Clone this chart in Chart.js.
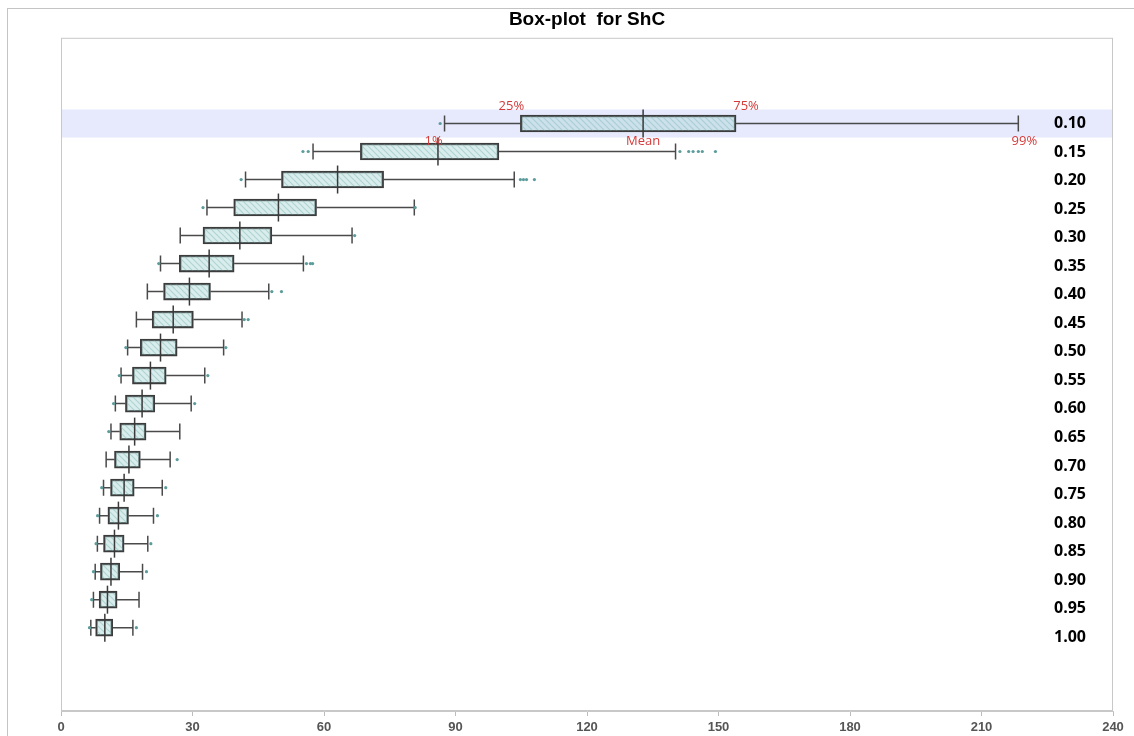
<!DOCTYPE html>
<html>
<head>
<meta charset="utf-8">
<script src="https://cdn.jsdelivr.net/npm/chart.js@4.4.0/dist/chart.umd.min.js"></script>
<style>
  body { margin: 0; background: #fff; }
  #frame { position: absolute; left: 7px; top: 8px; width: 1200px; height: 800px;
           border-left: 1px solid #c4c4c4; border-top: 1px solid #c4c4c4; }
  #wrap { position: absolute; left: 0; top: 0; width: 1134px; height: 736px; }
</style>
</head>
<body>
<div id="frame"></div>
<div id="wrap"><canvas id="boxChart" width="1134" height="736"></canvas></div>
<script>
// ---------- DATA ----------
const categories = ["0.10", "0.15", "0.20", "0.25", "0.30", "0.35", "0.40", "0.45", "0.50", "0.55",
                    "0.60", "0.65", "0.70", "0.75", "0.80", "0.85", "0.90", "0.95", "1.00"];
const p1Values   = [87.5, 57.5, 42.1, 33.3, 27.2, 22.7, 19.7, 17.2, 15.2, 13.7, 12.4, 11.4, 10.3, 9.7, 8.8, 8.3, 7.8, 7.4, 6.8];
const q1Values   = [104.8, 68.3, 50.3, 39.4, 32.4, 27.0, 23.4, 20.8, 18.1, 16.3, 14.7, 13.4, 12.2, 11.3, 10.7, 9.7, 9.0, 8.7, 7.9];
const meanValues = [132.8, 86.0, 63.1, 49.6, 40.8, 33.8, 29.3, 25.6, 22.7, 20.4, 18.5, 16.8, 15.5, 14.4, 13.1, 12.2, 11.4, 10.6, 10.0];
const q3Values   = [154.0, 99.9, 73.6, 58.3, 48.1, 39.5, 34.1, 30.2, 26.5, 24.0, 21.4, 19.4, 18.1, 16.7, 15.4, 14.4, 13.4, 12.8, 11.8];
const p99Values  = [218.4, 140.2, 103.4, 80.6, 66.4, 55.3, 47.4, 41.3, 37.1, 32.8, 29.7, 27.1, 24.9, 23.1, 21.1, 19.8, 18.6, 17.8, 16.4];
const outlierValues = [
    [86.5],
    [55.2, 56.4, 141.2, 143.2, 144.2, 145.4, 146.3, 149.3],
    [41.1, 104.8, 105.5, 106.2, 108.0],
    [32.4, 80.8],
    [67.0],
    [22.3, 56.0, 56.9, 57.4],
    [48.1, 50.3],
    [41.8, 42.7],
    [14.8, 37.6],
    [13.3, 33.5],
    [12.0, 30.5],
    [10.9],
    [26.5],
    [9.3, 23.9],
    [8.35, 22.0],
    [8.0, 20.5],
    [7.4, 19.5],
    [7.0],
    [6.5, 17.2]
];
const xTicks = [0, 30, 60, 90, 120, 150, 180, 210, 240];
const highlightIndex = 0;

// ---------- Hatched box fill ----------
function makeHatch() {
    const c = document.createElement("canvas");
    c.width = 6; c.height = 6;
    const g = c.getContext("2d");
    g.fillStyle = "rgba(172, 214, 214, 0.45)";
    g.fillRect(0, 0, 6, 6);
    g.strokeStyle = "rgba(140, 192, 192, 0.55)";
    g.lineWidth = 1.2;
    g.beginPath();
    g.moveTo(-1, -1); g.lineTo(7, 7);
    g.moveTo(-1, 5); g.lineTo(1, 7);
    g.moveTo(5, -1); g.lineTo(7, 1);
    g.stroke();
    return g.createPattern(c, "repeat");
}

// ---------- Plugin: band, whiskers, mean lines, labels ----------
const boxExtras = {
    id: "boxExtras",
    beforeDatasetsDraw(chart) {
        const { ctx, chartArea, scales } = chart;
        const x = scales.x, y = scales.y;
        ctx.save();
        // highlighted row
        const yc = y.getPixelForValue(highlightIndex);
        ctx.fillStyle = "#e6eafc";
        ctx.fillRect(chartArea.left + 1, yc - 14, chartArea.right - chartArea.left - 2, 28);
        // whiskers and caps
        ctx.strokeStyle = "#4a4a4a";
        ctx.lineWidth = 1.5;
        categories.forEach((c, i) => {
            const py = y.getPixelForValue(i);
            const a = x.getPixelForValue(p1Values[i]);
            const b = x.getPixelForValue(q1Values[i]);
            const d = x.getPixelForValue(q3Values[i]);
            const e = x.getPixelForValue(p99Values[i]);
            ctx.beginPath();
            ctx.moveTo(a, py); ctx.lineTo(b, py);
            ctx.moveTo(d, py); ctx.lineTo(e, py);
            ctx.moveTo(a, py - 8); ctx.lineTo(a, py + 8);
            ctx.moveTo(e, py - 8); ctx.lineTo(e, py + 8);
            ctx.stroke();
        });
        ctx.restore();
    },
    afterDatasetsDraw(chart) {
        const { ctx, chartArea, scales } = chart;
        const x = scales.x, y = scales.y, yl = scales.yLabels;
        ctx.save();
        // mean lines
        ctx.strokeStyle = "#3a3a3a";
        ctx.lineWidth = 1.5;
        categories.forEach((c, i) => {
            const py = y.getPixelForValue(i);
            const m = x.getPixelForValue(meanValues[i]);
            ctx.beginPath();
            ctx.moveTo(m, py - 14); ctx.lineTo(m, py + 14);
            ctx.stroke();
        });
        // category labels on the right
        ctx.fillStyle = "#000";
        ctx.font = "bold 16px 'Open Sans', sans-serif";
        ctx.textAlign = "center";
        ctx.textBaseline = "middle";
        categories.forEach((c, i) => {
            ctx.fillText(c, 1070, yl.getPixelForValue(i));
        });
        // statistic labels for the highlighted row
        const h = highlightIndex;
        const py = y.getPixelForValue(h);
        ctx.fillStyle = "#d43a3a";
        ctx.font = "13px 'Open Sans', sans-serif";
        ctx.fillText("25%", x.getPixelForValue(q1Values[h]) - 9, py - 17);
        ctx.fillText("75%", x.getPixelForValue(q3Values[h]) + 10, py - 17);
        ctx.fillText("1%", x.getPixelForValue(p1Values[h]) - 11, py + 18);
        ctx.fillText("Mean", x.getPixelForValue(meanValues[h]), py + 18);
        ctx.fillText("99%", x.getPixelForValue(p99Values[h]) + 6, py + 18);
        // plot frame
        ctx.strokeStyle = "#c8c8c8";
        ctx.lineWidth = 1;
        ctx.strokeRect(chartArea.left + 0.5, chartArea.top + 0.5,
                       chartArea.right - chartArea.left - 1, chartArea.bottom - chartArea.top - 1);
        ctx.restore();
    }
};

const outlierPoints = [];
outlierValues.forEach((list, i) => list.forEach(v => outlierPoints.push({ x: v, y: i })));

new Chart(document.getElementById("boxChart"), {
    type: "bar",
    data: {
        datasets: [{
            label: "Box",
            data: categories.map((c, i) => ({ y: i, x: [q1Values[i], q3Values[i]] })),
            backgroundColor: makeHatch(),
            borderColor: "#3c3c3c",
            borderWidth: 1.8,
            borderSkipped: false,
            barThickness: 17,
            order: 2
        }, {
            type: "scatter",
            label: "Outliers",
            data: outlierPoints,
            pointRadius: 1.6,
            pointBackgroundColor: "#5c9c9c",
            pointBorderWidth: 0,
            order: 1
        }]
    },
    options: {
        indexAxis: "y",
        responsive: false,
        animation: false,
        layout: { padding: { left: 61, right: 21, top: 0, bottom: 0 } },
        scales: {
            x: {
                type: "linear",
                min: 0,
                max: 240,
                offset: false,
                afterBuildTicks: axis => { axis.ticks = xTicks.map(v => ({ value: v })); },
                afterFit: axis => { axis.height = 25; },
                border: { display: true, color: "#c8c8c8" },
                grid: { drawOnChartArea: false, drawTicks: true, tickLength: 5, color: "#bdbdbd" },
                ticks: {
                    padding: 4,
                    color: "#555",
                    font: { family: "'Liberation Sans Narrow', 'Liberation Sans', Arial, sans-serif", size: 13, weight: "bold" },
                    maxRotation: 0
                }
            },
            y: {
                type: "linear",
                display: false,
                offset: false,
                reverse: true,
                min: -3.06,
                max: 20.975
            },
            yLabels: {
                type: "linear",
                display: false,
                offset: false,
                reverse: true,
                min: -3.018,
                max: 20.596
            }
        },
        plugins: {
            legend: { display: false },
            tooltip: { enabled: false },
            title: {
                display: true,
                text: "Box-plot  for ShC",
                color: "#000",
                font: { family: "'Liberation Sans', Arial, sans-serif", size: 19, weight: "bold" },
                padding: { top: 8, bottom: 7 }
            }
        }
    },
    plugins: [boxExtras]
});
</script>
</body>
</html>
